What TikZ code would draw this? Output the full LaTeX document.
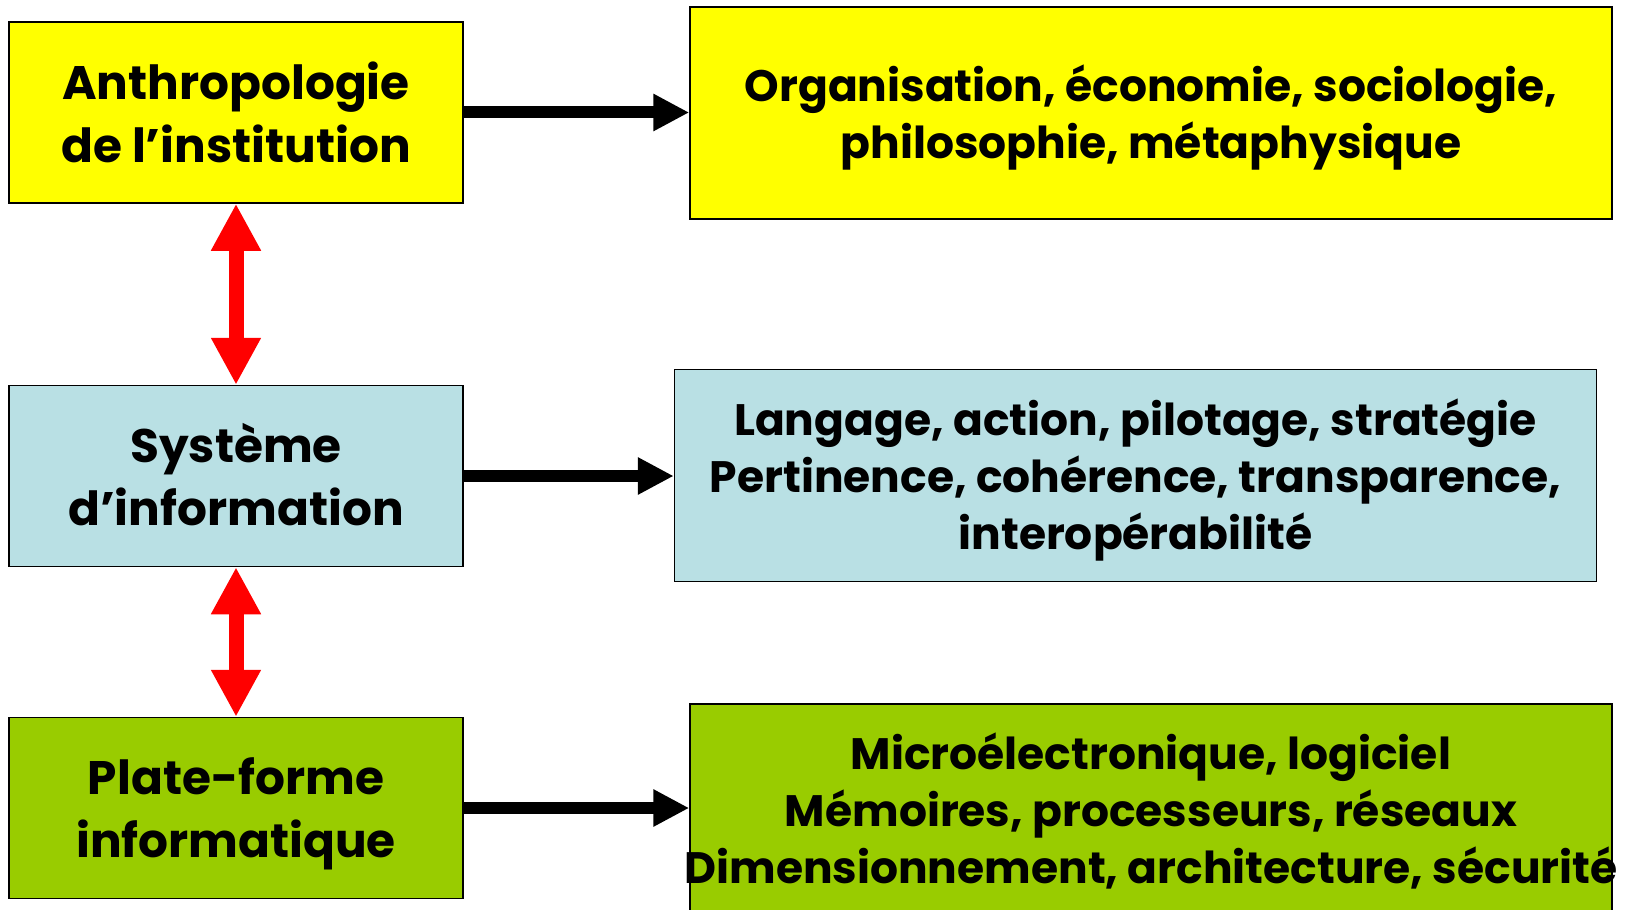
\documentclass[tikz,border=0pt]{standalone}
\usepackage{fontspec}
\setmainfont{Poppins}
\usetikzlibrary{arrows.meta}
\definecolor{boxyellow}{HTML}{FFFF00}
\definecolor{boxblue}{HTML}{B9E0E4}
\definecolor{boxgreen}{HTML}{99CC00}
\definecolor{linkred}{HTML}{FF0000}
% one text line of a box: fixed height, no depth, centred with zero width
% so that a long line may run past the box edges
\newcommand\boxline[1]{\rule{0pt}{0.77em}\smash{\makebox[0pt]{#1}}}
\begin{document}
\begin{tikzpicture}[x=0.5pt,y=-0.5pt,
  box/.style={draw=black, line width=0.75pt, inner sep=0pt, align=center},
  leftbox/.style={box, minimum width=227pt, minimum height=90.5pt,
    font=\bfseries\fontsize{23.5}{31.5}\selectfont},
  rightbox/.style={box, minimum width=461pt, minimum height=106pt,
    font=\bfseries\fontsize{22}{28.5}\selectfont},
  flow/.style={line width=6pt, -{Triangle[length=18pt,width=17.5pt]}},
  link/.style={color=linkred, line width=7.5pt,
    {Triangle[length=23.5pt,width=23.5pt]}-{Triangle[length=23.5pt,width=23.5pt]}}
]
\useasboundingbox (0,0) rectangle (1636,909);
\clip (0,0) rectangle (1636,909);

% left column: the three levels
\node[leftbox, fill=boxyellow] (anthro) at (236,112.5)
  {\boxline{Anthropologie}\\\boxline{de l’institution}};
\node[leftbox, fill=boxblue] (sysinfo) at (236,476)
  {\boxline{Système}\\\boxline{d’information}};
\node[leftbox, fill=boxgreen] (plateforme) at (236,808)
  {\boxline{Plate-forme}\\\boxline{informatique}};

% right column: the disciplines of each level
\node[rightbox, fill=boxyellow] (disc1) at (1151,113)
  {\boxline{Organisation, économie, sociologie,}\\\boxline{philosophie, métaphysique}};
\node[rightbox, fill=boxblue] (disc2) at (1135.5,475.5)
  {\boxline{Langage, action, pilotage, stratégie}\\\boxline{Pertinence, cohérence, transparence,}\\\boxline{interopérabilité}};
\node[rightbox, fill=boxgreen] (disc3) at (1151,810)
  {\boxline{Microélectronique, logiciel}\\\boxline{Mémoires, processeurs, réseaux}\\\boxline{Dimensionnement, architecture, sécurité}};

% links between levels
\draw[link] (anthro.south) -- (sysinfo.north);
\draw[link] (sysinfo.south) -- (plateforme.north);

% level to discipline
\draw[flow] (anthro.east) -- (anthro.east -| disc1.west);
\draw[flow] (sysinfo.east) -- (sysinfo.east -| disc2.west);
\draw[flow] (plateforme.east) -- (plateforme.east -| disc3.west);
\end{tikzpicture}
\end{document}
